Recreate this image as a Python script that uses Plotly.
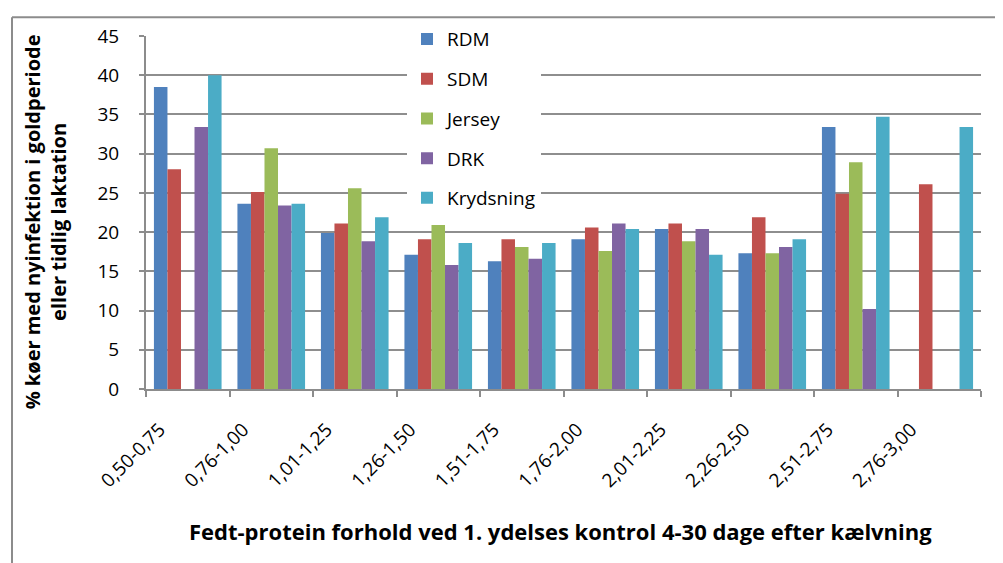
import plotly.graph_objects as go

categories = ["0,50-0,75", "0,76-1,00", "1,01-1,25", "1,26-1,50", "1,51-1,75",
              "1,76-2,00", "2,01-2,25", "2,26-2,50", "2,51-2,75", "2,76-3,00"]

rdm = [38.5, 23.6, 19.9, 17.1, 16.3, 19.1, 20.4, 17.3, 33.4, None]
sdm = [28.0, 25.1, 21.1, 19.1, 19.1, 20.6, 21.1, 21.9, 24.9, 26.1]
jersey = [None, 30.7, 25.6, 20.9, 18.1, 17.6, 18.85, 17.3, 28.9, None]
drk = [33.4, 23.4, 18.85, 15.8, 16.6, 21.1, 20.4, 18.1, 10.2, None]
kryds = [40.0, 23.6, 21.9, 18.6, 18.6, 20.4, 17.1, 19.1, 34.7, 33.4]

series_names = ["RDM", "SDM", "Jersey", "DRK", "Krydsning"]
series_values = [rdm, sdm, jersey, drk, kryds]
colors = ["#4F81BD", "#C0504D", "#9BBB59", "#8064A2", "#4BACC6"]

y_ticks = [0, 5, 10, 15, 20, 25, 30, 35, 40, 45]

FONT = "Open Sans"

fig = go.Figure()
for name, vals, col in zip(series_names, series_values, colors):
    fig.add_trace(go.Bar(x=categories, y=vals, name=name, marker_color=col,
                         marker_line_width=0, legendgroup=name))

# page offset (body margin) and figure size
OFF = 8
W, H = 1003 - OFF, 563 - OFF
# plot area in page pixels, converted to figure pixels
L, R, T, B = 146 - OFF, 981 - OFF, 31 - OFF, 389 - OFF
pw, ph = R - L, B - T

def px_x(x):
    return (x - OFF - L) / pw

def px_y(y):
    return (B - (y - OFF)) / ph

fig.update_layout(
    width=W, height=H,
    margin=dict(l=L, r=W - R, t=T, b=H - B, pad=0),
    paper_bgcolor="white", plot_bgcolor="white",
    barmode="group", bargap=0.19, bargroupgap=0,
    font=dict(family=FONT, color="black", size=18),
    showlegend=True,
    legend=dict(x=px_x(407), y=px_y(15), xanchor="left", yanchor="top",
                bgcolor="white", font=dict(size=19, family=FONT),
                tracegroupgap=12, itemwidth=30, borderwidth=0),
    xaxis=dict(type="category", showgrid=False, showline=True,
               linecolor="#8c8c8c", linewidth=2, ticks="outside",
               tickson="boundaries", ticklen=6, tickcolor="#8c8c8c",
               tickwidth=2, tickangle=-45, tickfont=dict(size=19),
               ticklabelstandoff=20, ticklabelshift=-28,
               range=[-0.5, 9.5]),
    yaxis=dict(range=[0, 45], tickvals=y_ticks, showgrid=True,
               gridcolor="#8e8e8e", gridwidth=2, showline=True,
               linecolor="#8c8c8c", linewidth=2, ticks="outside",
               ticklen=5, tickcolor="#8c8c8c", tickwidth=2,
               tickfont=dict(size=19), ticklabelstandoff=16, zeroline=False),
    annotations=[
        dict(text="<b>% køer med nyinfektion i goldperiode<br>eller tidlig laktation</b>",
             xref="paper", yref="paper", x=px_x(45), y=px_y(220),
             textangle=-90, showarrow=False, font=dict(size=20, family=FONT),
             xanchor="center", yanchor="middle"),
        dict(text="<b>Fedt-protein forhold ved 1. ydelses kontrol 4-30 dage efter kælvning</b>",
             xref="paper", yref="paper", x=px_x(560), y=px_y(533),
             showarrow=False, font=dict(size=22, family=FONT),
             xanchor="center", yanchor="middle"),
    ],
    shapes=[
        dict(type="line", xref="paper", yref="paper", x0=px_x(12), x1=px_x(12),
             y0=px_y(12), y1=px_y(600), line=dict(color="#8c8c8c", width=2)),
        dict(type="line", xref="paper", yref="paper", x0=px_x(12), x1=px_x(1010),
             y0=px_y(12), y1=px_y(12), line=dict(color="#8c8c8c", width=2)),
    ],
)

fig.write_html("out.html")
